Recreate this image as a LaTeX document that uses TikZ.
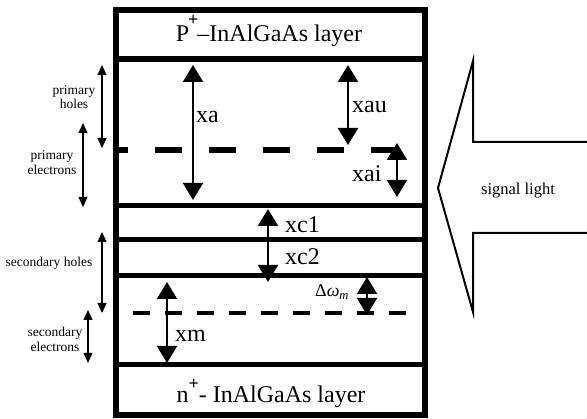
\documentclass[tikz,border=0pt]{standalone}
\usepackage{fontspec}
\setmainfont{Liberation Serif}
\usetikzlibrary{arrows.meta}
\begin{document}
\begin{tikzpicture}[x=1pt,y=-1pt,
  bigarrow/.style={line width=2pt,{Triangle[width=20pt,length=17pt]}-{Triangle[width=20pt,length=17pt]}},
  smallarrow/.style={line width=1.2pt,{Triangle[width=9pt,length=10pt]}-{Triangle[width=9pt,length=10pt]}},
  thickline/.style={line width=6pt},
  layerline/.style={line width=5pt},
  lbl/.style={font=\fontsize{24}{28}\selectfont, inner sep=0pt, anchor=base west},
  layertext/.style={font=\fontsize{24}{28}\selectfont, inner sep=0pt, anchor=base},
  side/.style={font=\fontsize{13.5}{14.5}\selectfont, align=center, inner sep=0pt}
]
\useasboundingbox (0,0) rectangle (587,419);

% device stack
\draw[thickline] (116,10) rectangle (425,415);
\draw[thickline] (116,59) -- (425,59);
\draw[layerline] (116,206) -- (425,206);
\draw[layerline] (116,240) -- (425,240);
\draw[layerline] (116,276) -- (425,276);
\draw[layerline] (116,365) -- (425,365);

% dashed lines
\draw[line width=6pt, dash pattern=on 27pt off 27pt, dash phase=15pt] (116,150) -- (397,150);
\draw[line width=4pt, dash pattern=on 17pt off 15pt] (133,313) -- (408,313);

% layer texts
\node[layertext] (ptop) at (269,42) {P\kern-1pt\raisebox{16pt}{\fontsize{18}{18}\selectfont\bfseries +}\kern-1pt–InAlGaAs layer};
\node[layertext] (nbot) at (271,403) {n\raisebox{13pt}{\fontsize{18}{18}\selectfont\bfseries +}- InAlGaAs layer};

% dimension arrows
\coordinate (xaT) at (193,65);  \coordinate (xaB) at (193,200);
\coordinate (xauT) at (348,65); \coordinate (xauB) at (348,145);
\coordinate (xaiT) at (397,143); \coordinate (xaiB) at (397,197);
\coordinate (xcT) at (268,209); \coordinate (xcB) at (268,282);
\coordinate (xmT) at (167,282); \coordinate (xmB) at (167,363);
\coordinate (dwT) at (367,277); \coordinate (dwB) at (367,315);
\draw[bigarrow] (xaT) -- (xaB);
\draw[bigarrow] (xauT) -- (xauB);
\draw[bigarrow] (xaiT) -- (xaiB);
\draw[bigarrow] (xcT) -- (xcB);
\draw[bigarrow] (xmT) -- (xmB);
\draw[bigarrow] (dwT) -- (dwB);

\node[lbl] (lxa) at (196,123) {xa};
\node[lbl] (lxau) at (352,113) {xau};
\node[lbl] (lxai) at (352,182) {xai};
\node[lbl] (lxc1) at (285,233) {xc1};
\node[lbl] (lxc2) at (285,265) {xc2};
\node[lbl] (lxm) at (175,342) {xm};
\node[lbl, font=\fontsize{18}{20}\selectfont] (ldw) at (315,297) {Δ\textit{ω}\textsubscript{\textit{m}}};

% carrier ranges
\coordinate (phT) at (102,65);  \coordinate (phB) at (102,148);
\coordinate (peT) at (83,123);  \coordinate (peB) at (83,207);
\coordinate (shT) at (102,232); \coordinate (shB) at (102,313);
\coordinate (seT) at (88,310);  \coordinate (seB) at (88,363);
\draw[smallarrow] (phT) -- (phB);
\draw[smallarrow] (peT) -- (peB);
\draw[smallarrow] (shT) -- (shB);
\draw[smallarrow] (seT) -- (seB);

\node[side] (tph) at (74,97) {primary\\holes};
\node[side] (tpe) at (52,162.5) {primary\\electrons};
\node[side, anchor=base] (tsh) at (49,267) {secondary holes};
\node[side] (tse) at (55,339.5) {secondary\\electrons};

% signal light arrow
\draw[line width=2pt, line join=miter] (590,142) -- (473,142) -- (473,61) -- (438,188) -- (473,312) -- (473,233) -- (590,233);
\node[font=\fontsize{16.5}{18}\selectfont, anchor=base, inner sep=0pt] (sig) at (518,195) {signal light};
\end{tikzpicture}
\end{document}
